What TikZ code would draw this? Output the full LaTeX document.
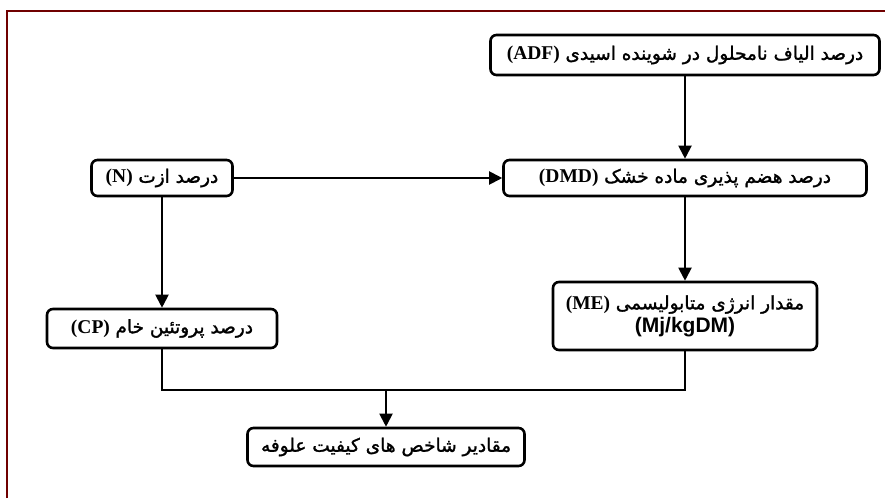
\documentclass[tikz,border=0pt]{standalone}
\usepackage{fontspec}
\usetikzlibrary{arrows.meta}
\TeXXeTstate=1
\newfontfamily\arabicfont[Script=Arabic, FakeBold=1.4]{DejaVu Sans}
\newfontfamily\latinserif{Liberation Serif}
\newfontfamily\latinsans{Liberation Sans}
\definecolor{borderred}{HTML}{700000}
\tikzset{
  box/.style={draw, line width=2.6pt, rounded corners=6pt, inner sep=2pt,
    font=\fontsize{18.5}{22}\selectfont, align=center},
  conn/.style={line width=2pt},
  arr/.style={conn, -{Triangle[length=13pt,width=13pt]}},
}
\newcommand{\fa}[1]{{\arabicfont\beginR #1\endR}}
\newcommand{\lt}[1]{{\latinserif\bfseries\fontsize{19.5}{22}\selectfont #1}}
\begin{document}
\begin{tikzpicture}[x=1pt,y=-1pt]
\useasboundingbox (0,0) rectangle (885,498);
\fill[white] (0,0) rectangle (885,498);
\draw[borderred, line width=1.1pt] (7,498) -- (7,11) -- (885,11);

\node[box, minimum width=389pt, minimum height=40pt] (adf) at (685,55)
  {\lt{(ADF)} \fa{درصد الیاف نامحلول در شوینده اسیدی}};
\node[box, minimum width=363pt, minimum height=36pt] (dmd) at (685,178)
  {\lt{(DMD)} \fa{درصد هضم پذیری ماده خشک}};
\node[box, minimum width=141pt, minimum height=36pt] (n) at (162,178)
  {\lt{(N)} \fa{درصد ازت}};
\node[box, minimum width=264pt, minimum height=68pt] (me) at (685,316)
  {\lt{(ME)} \fa{مقدار انرژی متابولیسمی}\\[1pt]{\latinsans\bfseries\fontsize{21}{24}\selectfont (Mj/kgDM)}};
\node[box, minimum width=230pt, minimum height=39pt] (cp) at (162,328.5)
  {\lt{(CP)} \fa{درصد پروتئین خام}};
\node[box, minimum width=277pt, minimum height=38pt] (out) at (386,447)
  {\fa{مقادیر شاخص های کیفیت علوفه}};

\coordinate (j) at (386,390);
\draw[arr] (adf.south) -- (dmd.north);
\draw[arr] (n.east) -- (dmd.west);
\draw[arr] (n.south) -- (cp.north);
\draw[arr] (dmd.south) -- (me.north);
\draw[conn] (cp.south) -- (cp.south |- j) -- (me.south |- j) -- (me.south);
\draw[arr] (j) -- (out.north);
\end{tikzpicture}
\end{document}
